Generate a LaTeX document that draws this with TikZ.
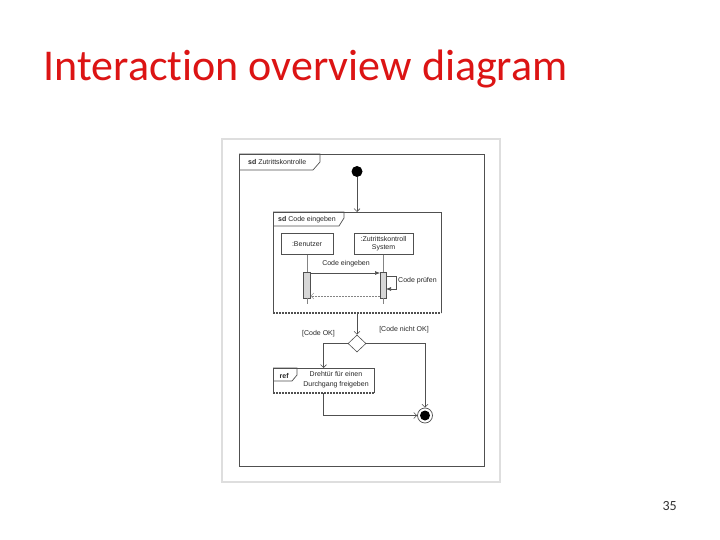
\documentclass[tikz,border=0pt]{standalone}
\usepackage{fontspec}
\setmainfont{Liberation Sans}
\newfontfamily\slidefont[RawFeature={-liga;-clig;-dlig}]{Carlito}
\usetikzlibrary{arrows.meta,shapes.geometric,calc}
\definecolor{titlered}{RGB}{220,20,20}
\definecolor{umlline}{RGB}{80,80,80}
\definecolor{umltext}{RGB}{40,40,40}
\definecolor{picborder}{RGB}{222,222,222}
\definecolor{barfill}{RGB}{215,215,215}
\begin{document}
\begin{tikzpicture}[x=1pt,y=-1pt,
  umlfont/.style={font=\fontsize{7}{8.5}\selectfont, text=umltext},
  framebox/.style={draw=none, inner sep=0pt, outer sep=0pt},
  frameline/.style={draw=umlline, line width=0.7pt},
  dashedge/.style={draw=umlline, line width=1.2pt, dash pattern=on 2pt off 1pt},
  flow/.style={draw=umlline, line width=0.6pt, -{Straight Barb[length=3pt,width=6pt]}},
  msg/.style={draw=umlline, line width=0.6pt, -{Latex[length=5pt,width=4pt]}},
  ret/.style={draw=umlline!70, line width=0.5pt, dash pattern=on 2pt off 1pt, -{Straight Barb[length=3pt,width=6pt]}},
  lifeline/.style={draw=umlline!70, line width=0.5pt},
  lifebox/.style={draw=umlline, line width=0.6pt, inner sep=0pt, outer sep=0pt, umlfont, align=center},
  actbar/.style={draw=umlline, fill=barfill, line width=0.6pt, inner sep=0pt, outer sep=0pt},
  glabel/.style={umlfont, inner sep=0pt}
]
\useasboundingbox (0,0) rectangle (720,540);
\fill[white] (0,0) rectangle (720,540);

% slide title and page number
\node[anchor=base west, inner sep=0pt, text=titlered, font=\slidefont\fontsize{44}{52}\selectfont] (title) at (43.5,81) {Interaction overview diagram};
\node[anchor=base east, inner sep=0pt, text=black!80, font=\slidefont\fontsize{14}{16}\selectfont] (pg) at (677,510) {35};

% picture border
\node[draw=picborder, line width=1.5pt, minimum width=278pt, minimum height=343pt, inner sep=0pt] (pic) at (361,310.5) {};

% outer frame
\node[framebox, minimum width=245pt, minimum height=312pt] (outer) at (361.5,310) {};
\draw[frameline] (outer.north west) rectangle (outer.south east);
\draw[frameline] (outer.north west) -- ++(81,0) -- ++(0,8) -- ++(-7,8) -- ++(-74,0);
\node[anchor=west, umlfont, inner sep=0pt] (outerlbl) at ($(outer.north west)+(9,8)$) {\textbf{sd} Zutrittskontrolle};

% initial node
\node[circle, fill=black, minimum size=11pt, inner sep=0pt] (init) at (357,171.5) {};

% sequence fragment
\node[framebox, minimum width=168pt, minimum height=101pt] (cf) at (357,262.5) {};
\draw[frameline] (cf.south west) -- (cf.north west) -- (cf.north east) -- (cf.south east);
\draw[dashedge] (cf.south west) -- (cf.south east);
\draw[frameline] (cf.north west) -- ++(71,0) -- ++(0,6) -- ++(-5,8) -- ++(-66,0);
\node[anchor=west, umlfont, inner sep=0pt] (cflbl) at ($(cf.north west)+(5,7.5)$) {\textbf{sd} Code eingeben};

\node[lifebox, minimum width=52pt, minimum height=21pt] (ben) at (307,244) {:Benutzer};
\node[lifebox, minimum width=59pt, minimum height=21pt, font=\fontsize{7}{8}\selectfont] (zs) at (383.5,244) {:Zutrittskontroll\\System};

\node[actbar, minimum width=7pt, minimum height=26pt] (bb) at (307,285) {};
\node[actbar, minimum width=6pt, minimum height=26pt] (zb) at (383,285) {};

\coordinate (bbend) at (307,304);
\coordinate (zbend) at (383,304);
\draw[lifeline] (ben.south) -- (bb.north);
\draw[lifeline] (bb.south) -- (bbend);
\draw[lifeline] (zs.south -| zb.north) -- (zb.north);
\draw[lifeline] (zb.south) -- (zbend);

\coordinate (m1) at (0,273);
\coordinate (m2) at (0,296);
\coordinate (s1) at (396,276.5);
\coordinate (s2) at (396,289);
\draw[msg] (bb.east |- m1) -- (zb.west |- m1);
\node[glabel] (m1lbl) at (346,263.5) {Code eingeben};
\draw[ret] (zb.west |- m2) -- (bb.east |- m2);
\draw[msg] (zb.east |- s1) -- (s1) -- (s2) -- (zb.east |- s2);
\node[glabel, anchor=west] (s1lbl) at (398,281) {Code prüfen};

% decision
\node[diamond, draw=umlline, line width=0.6pt, minimum width=18pt, minimum height=17pt, inner sep=0pt] (dec) at (357,343.5) {};
\draw[flow] (cf.south) -- (dec.north);
\node[glabel] (okl) at (318.5,334) {[Code OK]};
\node[glabel] (nokl) at (404,330) {[Code nicht OK]};

% ref fragment
\node[framebox, minimum width=101pt, minimum height=25pt] (rf) at (323.5,380.5) {};
\draw[frameline] (rf.south west) -- (rf.north west) -- (rf.north east) -- (rf.south east);
\draw[dashedge] (rf.south west) -- (rf.south east);
\draw[frameline] (rf.north west) -- ++(24,0) -- ++(0,7) -- ++(-5,6) -- ++(-19,0);
\node[anchor=west, umlfont, inner sep=0pt] (rflbl) at ($(rf.north west)+(6.5,8)$) {\textbf{ref}};
\node[umlfont, align=center, inner sep=0pt, font=\fontsize{7}{10}\selectfont] (rftxt) at (336,380) {Drehtür für einen\\Durchgang freigeben};

% final node
\node[circle, draw=umlline, fill=white, line width=0.7pt, minimum size=15pt, inner sep=0pt] (fin) at (425,415.5) {};
\node[circle, fill=black, minimum size=10pt, inner sep=0pt] (finin) at (fin.center) {};

\draw[flow] (init) -- (cf.north);
\draw[flow] (dec.west) -| (rf.north);
\draw[flow] (dec.east) -| (fin.north);
\draw[flow] (rf.south) |- (fin.west);
\end{tikzpicture}
\end{document}
